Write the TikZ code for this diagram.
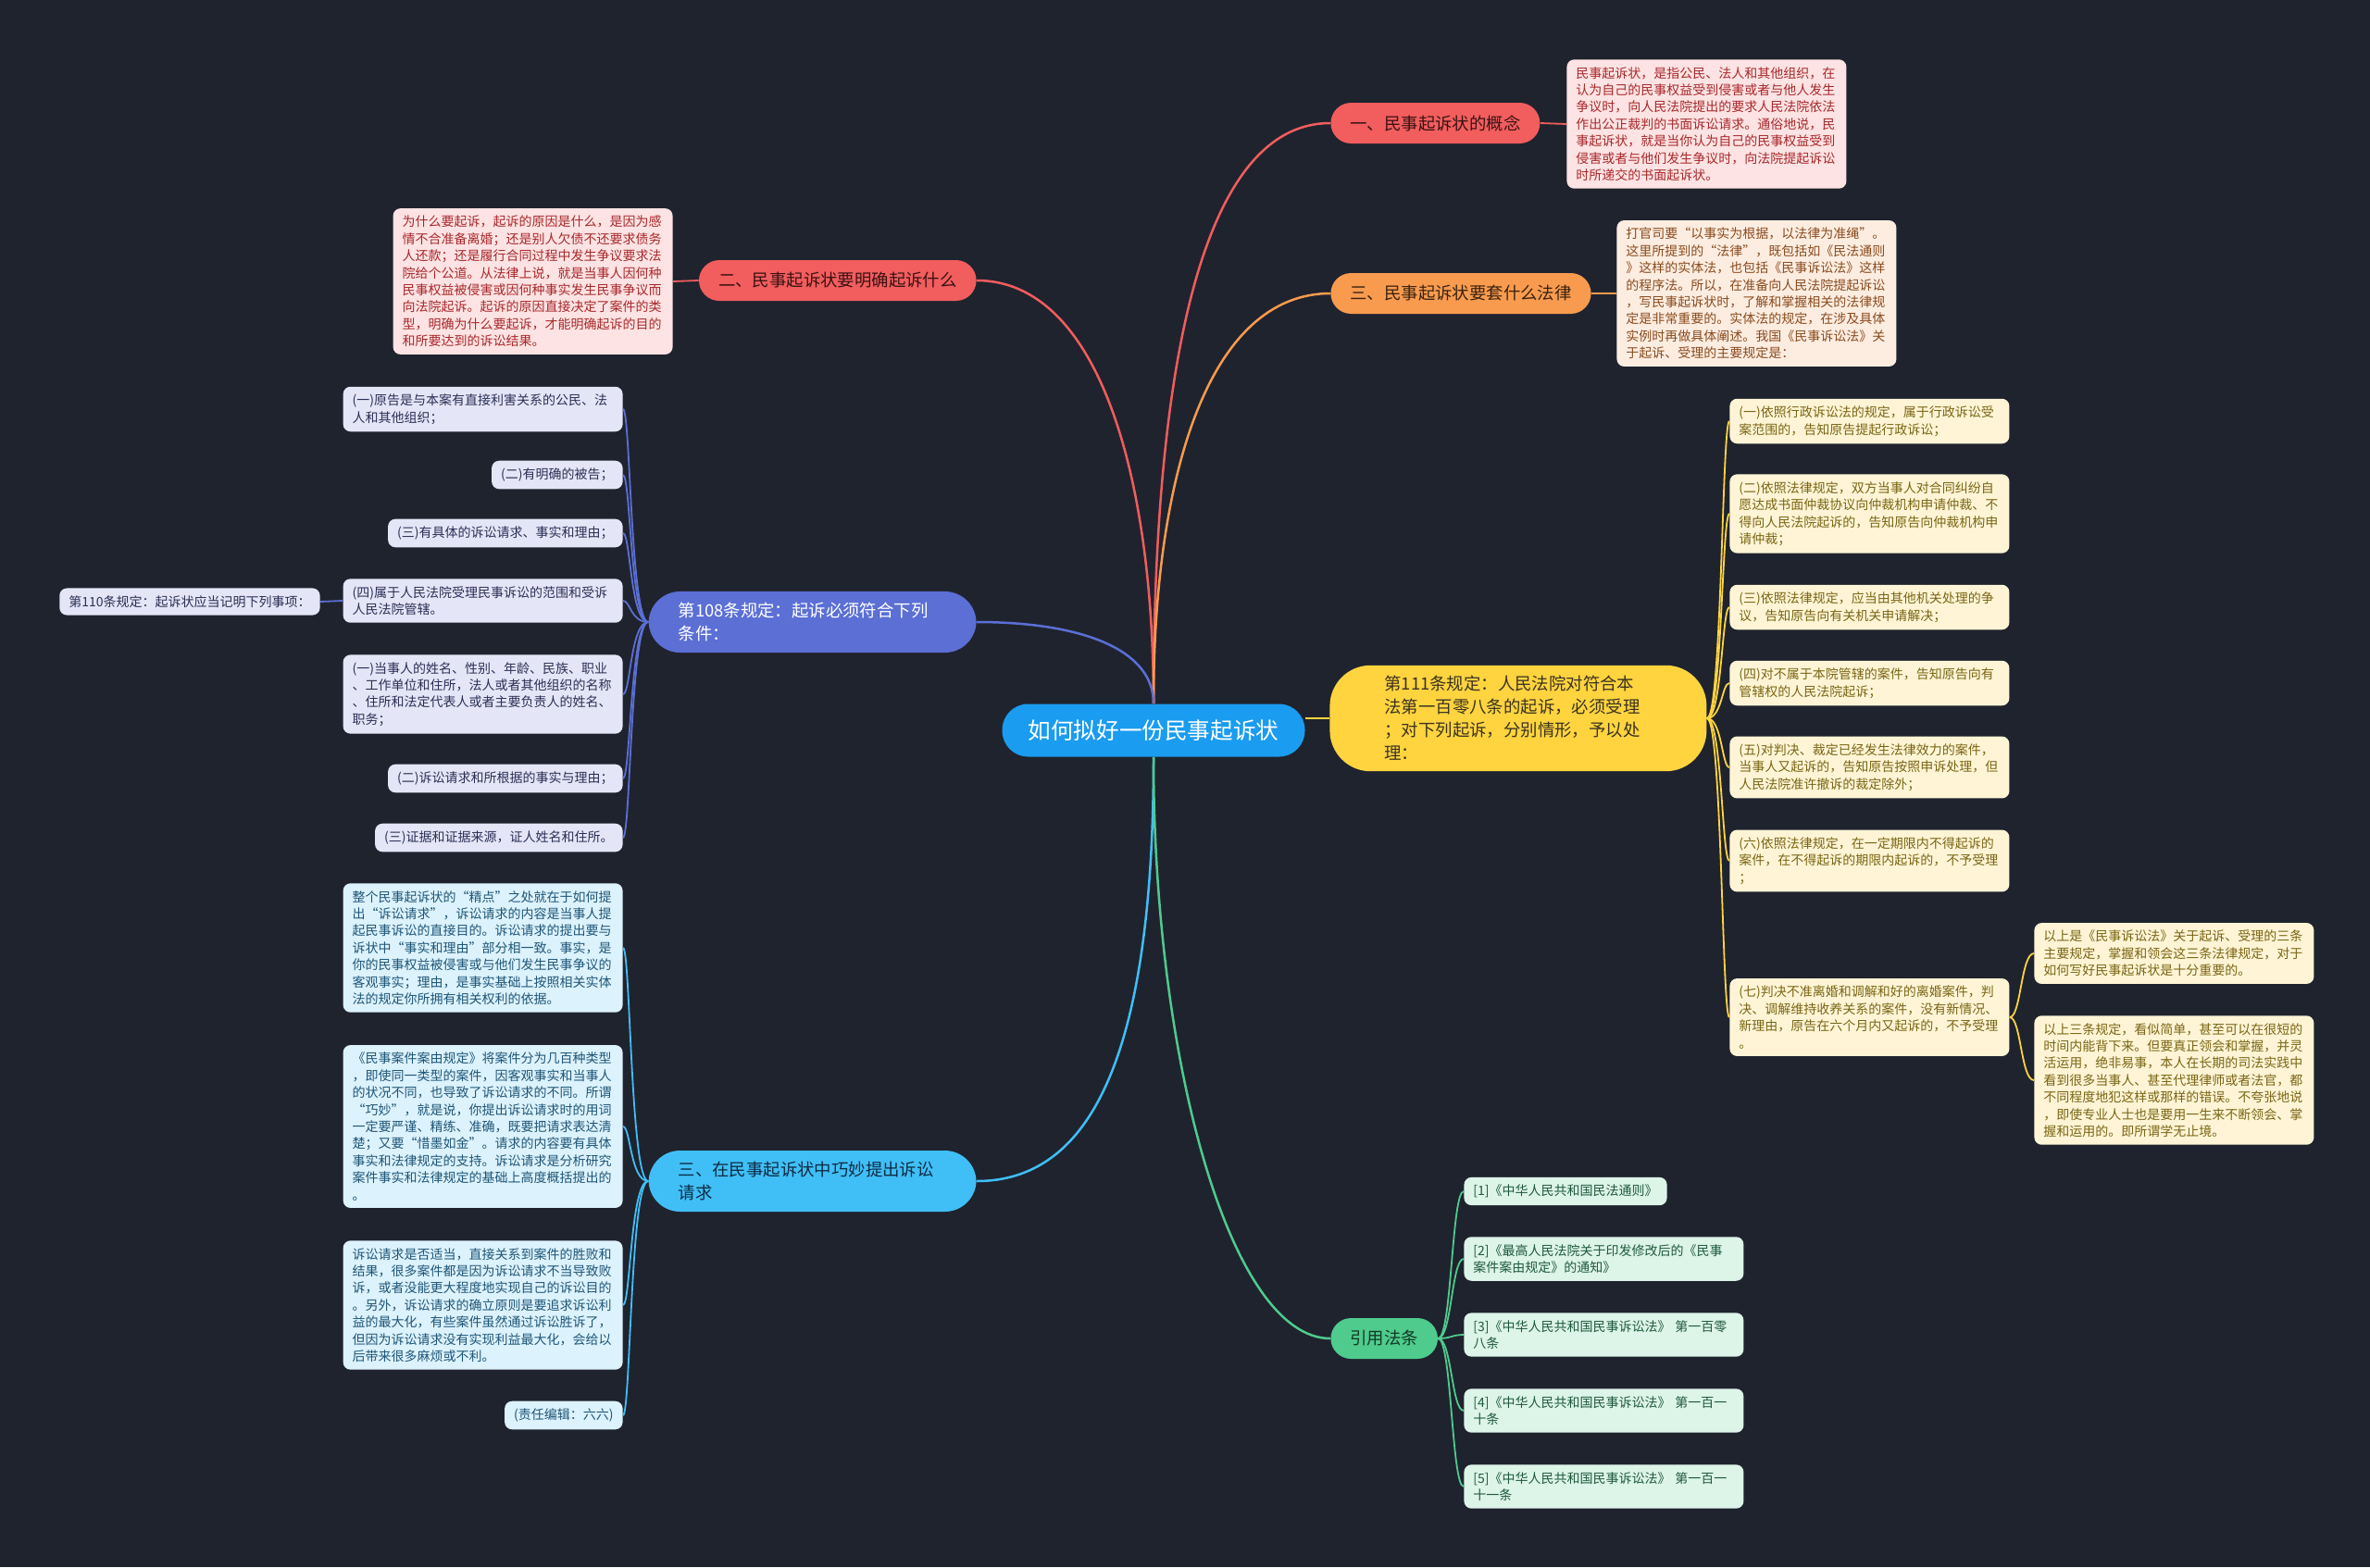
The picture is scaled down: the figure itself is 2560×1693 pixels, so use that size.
\documentclass[tikz,border=0pt]{standalone}
\usepackage{fontspec}
\setmainfont{Noto Sans CJK SC}
\usetikzlibrary{positioning,calc}
\definecolor{fondo}{HTML}{1F232E}
\definecolor{azul}{HTML}{1A9CF0}
\definecolor{coral}{HTML}{F25D5E}
\definecolor{coralclaro}{HTML}{FDE3E3}
\definecolor{coraloscuro}{HTML}{3A1212}
\definecolor{granate}{HTML}{A8282B}
\definecolor{naranja}{HTML}{F99B4E}
\definecolor{naranjaclaro}{HTML}{FDEDE1}
\definecolor{naranjaoscuro}{HTML}{3A2210}
\definecolor{marron}{HTML}{8A4B1E}
\definecolor{anil}{HTML}{5B6FD5}
\definecolor{anilclaro}{HTML}{E4E6F7}
\definecolor{aniloscuro}{HTML}{2B2F55}
\definecolor{amarillo}{HTML}{FFD43F}
\definecolor{amarilloclaro}{HTML}{FFF5D6}
\definecolor{amarillooscuro}{HTML}{3B3320}
\definecolor{oliva}{HTML}{7A6514}
\definecolor{celeste}{HTML}{40BFF7}
\definecolor{celesteclaro}{HTML}{DCF2FC}
\definecolor{celesteoscuro}{HTML}{0E2C44}
\definecolor{petroleo}{HTML}{1E5678}
\definecolor{verde}{HTML}{4FCB8D}
\definecolor{verdeclaro}{HTML}{DDF4E8}
\definecolor{verdeoscuro}{HTML}{123A26}
\definecolor{pino}{HTML}{1E5A3C}

\begin{document}
\begin{tikzpicture}[x=0.5pt, y=-0.5pt,
      raiz/.style={rounded corners=14pt, fill=azul, text=white, minimum width=163.5pt, minimum height=28.5pt, font=\fontsize{12.3}{15}\selectfont},
      rama/.style={rounded corners=11pt, inner xsep=10.5pt, inner ysep=0pt, minimum height=22pt, align=left, font=\fontsize{9.2}{12.5}\selectfont},
      ramaalta/.style={rama, rounded corners=17pt, inner xsep=16pt, inner ysep=6pt, text width=145pt},
      hoja/.style={rounded corners=4pt, inner xsep=5pt, inner ysep=4pt, align=left, font=\fontsize{7}{9.2}\selectfont},
      ancha/.style={text width=141pt},
      enlace/.style={line width=1.25pt},
      fino/.style={line width=0.9pt}
    ]
      \fill[fondo] (0,0) rectangle (2560,1693);

      \node[raiz] (raiz) at (1246,789) {如何拟好一份民事起诉状};

      % ramas de la derecha
      \node[rama, fill=coral, text=coraloscuro, anchor=west] (concepto) at (1437,133) {一、民事起诉状的概念};
      \node[hoja, ancha, fill=coralclaro, text=granate, anchor=west] (conceptotxt) at (1692,134) {民事起诉状，是指公民、法人和其他组织，在\\认为自己的民事权益受到侵害或者与他人发生\\争议时，向人民法院提出的要求人民法院依法\\作出公正裁判的书面诉讼请求。通俗地说，民\\事起诉状，就是当你认为自己的民事权益受到\\侵害或者与他们发生争议时，向法院提起诉讼\\时所递交的书面起诉状。};

      \node[rama, fill=naranja, text=naranjaoscuro, anchor=west] (ley) at (1437,317) {三、民事起诉状要套什么法律};
      \node[hoja, ancha, fill=naranjaclaro, text=marron, anchor=west] (leytxt) at (1746,317) {打官司要“以事实为根据，以法律为准绳”。\\这里所提到的“法律”，既包括如《民法通则\\》这样的实体法，也包括《民事诉讼法》这样\\的程序法。所以，在准备向人民法院提起诉讼\\，写民事起诉状时，了解和掌握相关的法律规\\定是非常重要的。实体法的规定，在涉及具体\\实例时再做具体阐述。我国《民事诉讼法》关\\于起诉、受理的主要规定是：};

      \node[ramaalta, fill=amarillo, text=amarillooscuro, rounded corners=22pt, inner xsep=29.5pt, inner ysep=5.75pt, text width=144.5pt, anchor=west] (art111) at (1436,776) {第111条规定：人民法院对符合本\\法第一百零八条的起诉，必须受理\\；对下列起诉，分别情形，予以处\\理：};
      \node[hoja, ancha, fill=amarilloclaro, text=oliva, anchor=west] (r1) at (1868,455) {(一)依照行政诉讼法的规定，属于行政诉讼受\\案范围的，告知原告提起行政诉讼；};
      \node[hoja, ancha, fill=amarilloclaro, text=oliva, anchor=west] (r2) at (1868,555) {(二)依照法律规定，双方当事人对合同纠纷自\\愿达成书面仲裁协议向仲裁机构申请仲裁、不\\得向人民法院起诉的，告知原告向仲裁机构申\\请仲裁；};
      \node[hoja, ancha, fill=amarilloclaro, text=oliva, anchor=west] (r3) at (1868,656) {(三)依照法律规定，应当由其他机关处理的争\\议，告知原告向有关机关申请解决；};
      \node[hoja, ancha, fill=amarilloclaro, text=oliva, anchor=west] (r4) at (1868,738) {(四)对不属于本院管辖的案件，告知原告向有\\管辖权的人民法院起诉；};
      \node[hoja, ancha, fill=amarilloclaro, text=oliva, anchor=west] (r5) at (1868,829) {(五)对判决、裁定已经发生法律效力的案件，\\当事人又起诉的，告知原告按照申诉处理，但\\人民法院准许撤诉的裁定除外；};
      \node[hoja, ancha, fill=amarilloclaro, text=oliva, anchor=west] (r6) at (1868,930) {(六)依照法律规定，在一定期限内不得起诉的\\案件，在不得起诉的期限内起诉的，不予受理\\；};
      \node[hoja, ancha, fill=amarilloclaro, text=oliva, anchor=west] (r7) at (1868,1099) {(七)判决不准离婚和调解和好的离婚案件，判\\决、调解维持收养关系的案件，没有新情况、\\新理由，原告在六个月内又起诉的，不予受理\\。};
      \node[hoja, ancha, fill=amarilloclaro, text=oliva, anchor=west] (resumen1) at (2197,1030) {以上是《民事诉讼法》关于起诉、受理的三条\\主要规定，掌握和领会这三条法律规定，对于\\如何写好民事起诉状是十分重要的。};
      \node[hoja, ancha, fill=amarilloclaro, text=oliva, anchor=west] (resumen2) at (2197,1167) {以上三条规定，看似简单，甚至可以在很短的\\时间内能背下来。但要真正领会和掌握，并灵\\活运用，绝非易事，本人在长期的司法实践中\\看到很多当事人、甚至代理律师或者法官，都\\不同程度地犯这样或那样的错误。不夸张地说\\，即使专业人士也是要用一生来不断领会、掌\\握和运用的。即所谓学无止境。};

      \node[rama, fill=verde, text=verdeoscuro, anchor=west] (citas) at (1437,1446) {引用法条};
      \node[hoja, fill=verdeclaro, text=pino, anchor=west] (cita1) at (1581,1287) {[1]《中华人民共和国民法通则》};
      \node[hoja, ancha, fill=verdeclaro, text=pino, anchor=west] (cita2) at (1581,1360) {[2]《最高人民法院关于印发修改后的《民事\\案件案由规定》的通知》};
      \node[hoja, ancha, fill=verdeclaro, text=pino, anchor=west] (cita3) at (1581,1442) {[3]《中华人民共和国民事诉讼法》 第一百零\\八条};
      \node[hoja, ancha, fill=verdeclaro, text=pino, anchor=west] (cita4) at (1581,1524) {[4]《中华人民共和国民事诉讼法》 第一百一\\十条};
      \node[hoja, ancha, fill=verdeclaro, text=pino, anchor=west] (cita5) at (1581,1606) {[5]《中华人民共和国民事诉讼法》 第一百一\\十一条};

      % ramas de la izquierda
      \node[rama, fill=coral, text=coraloscuro, anchor=east] (motivo) at (1055,303) {二、民事起诉状要明确起诉什么};
      \node[hoja, ancha, fill=coralclaro, text=granate, anchor=east] (motivotxt) at (727,304) {为什么要起诉，起诉的原因是什么，是因为感\\情不合准备离婚；还是别人欠债不还要求债务\\人还款；还是履行合同过程中发生争议要求法\\院给个公道。从法律上说，就是当事人因何种\\民事权益被侵害或因何种事实发生民事争议而\\向法院起诉。起诉的原因直接决定了案件的类\\型，明确为什么要起诉，才能明确起诉的目的\\和所要达到的诉讼结果。};

      \node[ramaalta, fill=anil, text=white, anchor=east] (art108) at (1055,672) {第108条规定：起诉必须符合下列\\条件：};
      \node[hoja, ancha, fill=anilclaro, text=aniloscuro, anchor=east] (c1) at (673,442) {(一)原告是与本案有直接利害关系的公民、法\\人和其他组织；};
      \node[hoja, fill=anilclaro, text=aniloscuro, anchor=east] (c2) at (673,513) {(二)有明确的被告；};
      \node[hoja, fill=anilclaro, text=aniloscuro, anchor=east] (c3) at (673,576) {(三)有具体的诉讼请求、事实和理由；};
      \node[hoja, ancha, fill=anilclaro, text=aniloscuro, anchor=east] (c4) at (673,649) {(四)属于人民法院受理民事诉讼的范围和受诉\\人民法院管辖。};
      \node[hoja, fill=anilclaro, text=aniloscuro, anchor=east] (art110) at (346,650) {第110条规定：起诉状应当记明下列事项：};
      \node[hoja, ancha, fill=anilclaro, text=aniloscuro, anchor=east] (c5) at (673,750) {(一)当事人的姓名、性别、年龄、民族、职业\\、工作单位和住所，法人或者其他组织的名称\\、住所和法定代表人或者主要负责人的姓名、\\职务；};
      \node[hoja, fill=anilclaro, text=aniloscuro, anchor=east] (c6) at (673,841) {(二)诉讼请求和所根据的事实与理由；};
      \node[hoja, fill=anilclaro, text=aniloscuro, anchor=east] (c7) at (673,905) {(三)证据和证据来源，证人姓名和住所。};

      \node[ramaalta, fill=celeste, text=celesteoscuro, anchor=east] (peticion) at (1055,1276) {三、在民事起诉状中巧妙提出诉讼\\请求};
      \node[hoja, ancha, fill=celesteclaro, text=petroleo, anchor=east] (p1) at (673,1024) {整个民事起诉状的“精点”之处就在于如何提\\出“诉讼请求”，诉讼请求的内容是当事人提\\起民事诉讼的直接目的。诉讼请求的提出要与\\诉状中“事实和理由”部分相一致。事实，是\\你的民事权益被侵害或与他们发生民事争议的\\客观事实；理由，是事实基础上按照相关实体\\法的规定你所拥有相关权利的依据。};
      \node[hoja, ancha, fill=celesteclaro, text=petroleo, anchor=east] (p2) at (673,1217) {《民事案件案由规定》将案件分为几百种类型\\，即使同一类型的案件，因客观事实和当事人\\的状况不同，也导致了诉讼请求的不同。所谓\\“巧妙”，就是说，你提出诉讼请求时的用词\\一定要严谨、精练、准确，既要把请求表达清\\楚；又要“惜墨如金”。请求的内容要有具体\\事实和法律规定的支持。诉讼请求是分析研究\\案件事实和法律规定的基础上高度概括提出的\\。};
      \node[hoja, ancha, fill=celesteclaro, text=petroleo, anchor=east] (p3) at (673,1410) {诉讼请求是否适当，直接关系到案件的胜败和\\结果，很多案件都是因为诉讼请求不当导致败\\诉，或者没能更大程度地实现自己的诉讼目的\\。另外，诉讼请求的确立原则是要追求诉讼利\\益的最大化，有些案件虽然通过诉讼胜诉了，\\但因为诉讼请求没有实现利益最大化，会给以\\后带来很多麻烦或不利。};
      \node[hoja, fill=celesteclaro, text=petroleo, anchor=east] (p4) at (673,1529) {(责任编辑：六六)};

      % enlaces desde la raiz
      \draw[enlace, coral] (raiz.north) .. controls ($(raiz.north)+(0,-360)$) and ($(concepto.west)+(-140,0)$) .. (concepto.west);
      \draw[enlace, coral] (raiz.north) .. controls ($(raiz.north)+(0,-250)$) and ($(motivo.east)+(130,0)$) .. (motivo.east);
      \draw[enlace, naranja] (raiz.north) .. controls ($(raiz.north)+(0,-250)$) and ($(ley.west)+(-130,0)$) .. (ley.west);
      \draw[enlace, anil] (raiz.north) .. controls ($(raiz.north)+(0,-60)$) and ($(art108.east)+(110,0)$) .. (art108.east);
      \draw[enlace, amarillo] (art111.west -| raiz.east) -- (art111.west);
      \draw[enlace, celeste] (raiz.south) .. controls ($(raiz.south)+(0,330)$) and ($(peticion.east)+(120,0)$) .. (peticion.east);
      \draw[enlace, verde] (raiz.south) .. controls ($(raiz.south)+(0,332)$) and ($(citas.west)+(-107,0)$) .. (citas.west);

      % enlaces hacia las hojas
      \draw[fino, coral] (concepto.east) -- (conceptotxt.west);
      \draw[fino, coral] (motivo.west) -- (motivotxt.east);
      \draw[fino, naranja] (ley.east) -- (leytxt.west);
      \foreach \h in {r1,r2,r3,r4,r5,r6,r7}
        \draw[fino, amarillo] (art111.east) .. controls ($(art111.east -| \h.west)+(-8,0)$) and ($(\h.west)+(-8,0)$) .. (\h.west);
      \foreach \h in {resumen1,resumen2}
        \draw[fino, amarillo] (r7.east) .. controls ($(r7.east -| \h.west)+(-14,0)$) and ($(\h.west)+(-14,0)$) .. (\h.west);
      \foreach \h in {c1,c2,c3,c4,c5,c6,c7}
        \draw[fino, anil] (art108.west) .. controls ($(art108.west -| \h.east)+(8,0)$) and ($(\h.east)+(8,0)$) .. (\h.east);
      \draw[fino, anil] (c4.west) -- (art110.east);
      \foreach \h in {p1,p2,p3,p4}
        \draw[fino, celeste] (peticion.west) .. controls ($(peticion.west -| \h.east)+(8,0)$) and ($(\h.east)+(8,0)$) .. (\h.east);
      \foreach \h in {cita1,cita2,cita3,cita4,cita5}
        \draw[fino, verde] (citas.east) .. controls ($(citas.east -| \h.west)+(-13,0)$) and ($(\h.west)+(-13,0)$) .. (\h.west);
    \end{tikzpicture}
\end{document}
